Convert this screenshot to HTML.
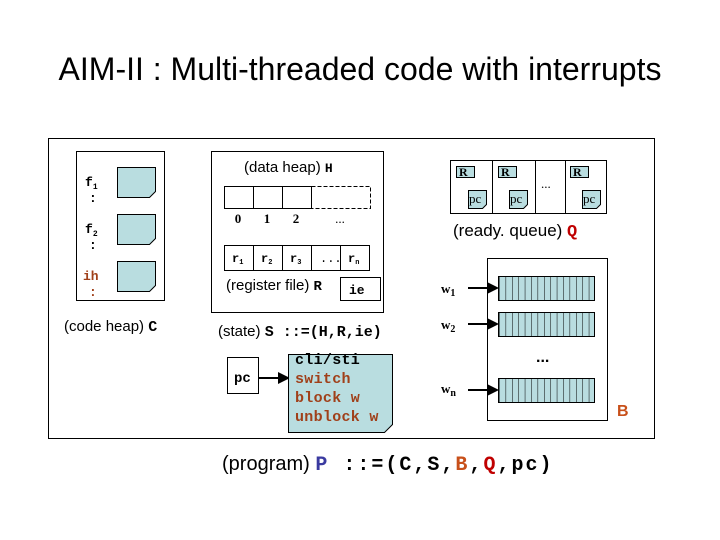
<!DOCTYPE html>
<html><head><meta charset="utf-8"><style>
body{margin:0;background:#fff;width:720px;height:540px;overflow:hidden}
svg{display:block}
.a{font-family:"Liberation Sans",sans-serif}
.m{font-family:"Liberation Mono",monospace;font-weight:bold}
.s{font-family:"Liberation Serif",serif}
</style></head><body>
<svg width="720" height="540" viewBox="0 0 720 540" xmlns="http://www.w3.org/2000/svg">
<defs>
<marker id="ar" markerWidth="6" markerHeight="6" refX="5" refY="3" orient="auto"><path d="M0,0L6,3L0,6z" fill="#000"/></marker>
<pattern id="bars" width="6.4" height="30" patternUnits="userSpaceOnUse"><rect width="6.4" height="30" fill="#b9dde0"/><line x1="0" y1="0" x2="0" y2="30" stroke="#000" stroke-width="1"/></pattern>
</defs>
<text x="360" y="80" text-anchor="middle" class="a" font-size="32">AIM-II : Multi-threaded code with interrupts</text>
<rect x="48.5" y="138.5" width="606" height="300" fill="none" stroke="#000"/>
<!-- code heap -->
<rect x="76.5" y="151.5" width="88" height="149" fill="none" stroke="#000"/>
<g fill="#b9dde0" stroke="#000">
<path d="M117.5,167.5h38v24l-6,6h-32z"/><path d="M117.5,214.5h38v24l-6,6h-32z"/><path d="M117.5,261.5h38v24l-6,6h-32z"/>
</g>
<g class="m" font-size="13">
<text x="85" y="186">f<tspan font-size="8" dy="3">1</tspan></text><text x="89" y="202">:</text>
<text x="85" y="233">f<tspan font-size="8" dy="3">2</tspan></text><text x="89" y="249">:</text>
<text x="83" y="280" fill="#a0401a">ih</text><text x="89" y="296" fill="#a0401a">:</text>
</g>
<text x="64" y="331" class="a" font-size="15">(code heap) <tspan class="m">C</tspan></text>
<!-- state -->
<rect x="211.5" y="151.5" width="172" height="161" fill="none" stroke="#000"/>
<text x="244" y="172" class="a" font-size="15">(data heap) <tspan class="m" font-size="13">H</tspan></text>
<g fill="none" stroke="#000"><rect x="224.5" y="186.5" width="29" height="22"/><rect x="253.5" y="186.5" width="29" height="22"/><rect x="282.5" y="186.5" width="29" height="22"/>
<path d="M311.5,186.5h59v22h-59" stroke-dasharray="4,2"/></g>
<g class="s" font-size="13" font-weight="bold" text-anchor="middle"><text x="238" y="223">0</text><text x="267" y="223">1</text><text x="296" y="223">2</text><text x="340" y="223" font-weight="normal">...</text></g>
<g fill="none" stroke="#000"><rect x="224.5" y="245.5" width="29" height="25"/><rect x="253.5" y="245.5" width="29" height="25"/><rect x="282.5" y="245.5" width="29" height="25"/><rect x="311.5" y="245.5" width="29" height="25"/><rect x="340.5" y="245.5" width="29" height="25"/></g>
<g class="m" font-size="12"><text x="232" y="262">r<tspan font-size="7" dy="2">1</tspan></text><text x="261" y="262">r<tspan font-size="7" dy="2">2</tspan></text><text x="290" y="262">r<tspan font-size="7" dy="2">3</tspan></text><text x="320" y="262" font-weight="normal">...</text><text x="348" y="262">r<tspan font-size="7" dy="2">n</tspan></text></g>
<text x="226" y="290" class="a" font-size="15">(register file) <tspan class="m" font-size="14">R</tspan></text>
<rect x="340.5" y="277.5" width="40" height="23" fill="none" stroke="#000"/>
<text x="349" y="294" class="m" font-size="13">ie</text>
<text x="218" y="336" class="a" font-size="15">(state) <tspan class="m" font-size="15">S ::=(H,R,ie)</tspan></text>
<rect x="227.5" y="357.5" width="31" height="36" fill="#fff" stroke="#000"/>
<text x="234" y="382" class="m" font-size="14">pc</text>
<line x1="259" y1="378" x2="288" y2="378" stroke="#000" stroke-width="2" marker-end="url(#ar)"/>
<path d="M288.5,354.5h104v70l-8,8h-96z" fill="#b9dde0" stroke="#000"/>
<g class="m" font-size="15" letter-spacing="0.3"><text x="295" y="364">cli/sti</text><text x="295" y="383" fill="#a0401a">switch</text><text x="295" y="402" fill="#a0401a">block w</text><text x="295" y="421" fill="#a0401a">unblock w</text></g>
<!-- queue -->
<rect x="450.5" y="160.5" width="156" height="53" fill="none" stroke="#000"/>
<g stroke="#000"><line x1="492.5" y1="160" x2="492.5" y2="213"/><line x1="535.5" y1="160" x2="535.5" y2="213"/><line x1="565.5" y1="160" x2="565.5" y2="213"/></g>
<g fill="#b9dde0" stroke="#000">
<rect x="456.5" y="166.5" width="18" height="11"/><rect x="498.5" y="166.5" width="18" height="11"/><rect x="570.5" y="166.5" width="18" height="11"/>
<path d="M468.5,190.5h18v14l-4,4h-14z"/><path d="M509.5,190.5h18v14l-4,4h-14z"/><path d="M582.5,190.5h18v14l-4,4h-14z"/>
</g>
<g class="s" font-size="12" font-weight="bold"><text x="459" y="176">R</text><text x="501" y="176">R</text><text x="573" y="176">R</text></g>
<g class="s" font-size="13"><text x="469" y="203">pc</text><text x="510" y="203">pc</text><text x="583" y="203">pc</text><text x="541" y="188">...</text></g>
<text x="453" y="236" class="a" font-size="17">(ready. queue) <tspan class="m" fill="#c00000">Q</tspan></text>
<!-- B -->
<rect x="487.5" y="258.5" width="120" height="162" fill="none" stroke="#000"/>
<rect x="498.5" y="276.5" width="96" height="24" fill="url(#bars)" stroke="#000"/>
<rect x="498.5" y="312.5" width="96" height="24" fill="url(#bars)" stroke="#000"/>
<rect x="498.5" y="378.5" width="96" height="24" fill="url(#bars)" stroke="#000"/>
<text x="536" y="362" class="a" font-size="16" font-weight="bold">...</text>
<g class="s" font-size="13" font-weight="bold"><text x="441" y="293">w<tspan font-size="10" dy="3">1</tspan></text><text x="441" y="329">w<tspan font-size="10" dy="3">2</tspan></text><text x="441" y="393">w<tspan font-size="10" dy="3">n</tspan></text></g>
<g stroke="#000" stroke-width="2"><line x1="468" y1="288" x2="497" y2="288" marker-end="url(#ar)"/><line x1="468" y1="324" x2="497" y2="324" marker-end="url(#ar)"/><line x1="468" y1="390" x2="497" y2="390" marker-end="url(#ar)"/></g>
<text x="617" y="416" class="a" font-size="16" font-weight="bold" fill="#c8501a">B</text>
<text x="222" y="470" class="a" font-size="20">(program) <tspan class="m" font-size="20" letter-spacing="2"><tspan fill="#3a3aa0">P</tspan> ::=(C,S,<tspan fill="#c8501a">B</tspan>,<tspan fill="#c00000">Q</tspan>,pc)</tspan></text>
</svg>
</body></html>
